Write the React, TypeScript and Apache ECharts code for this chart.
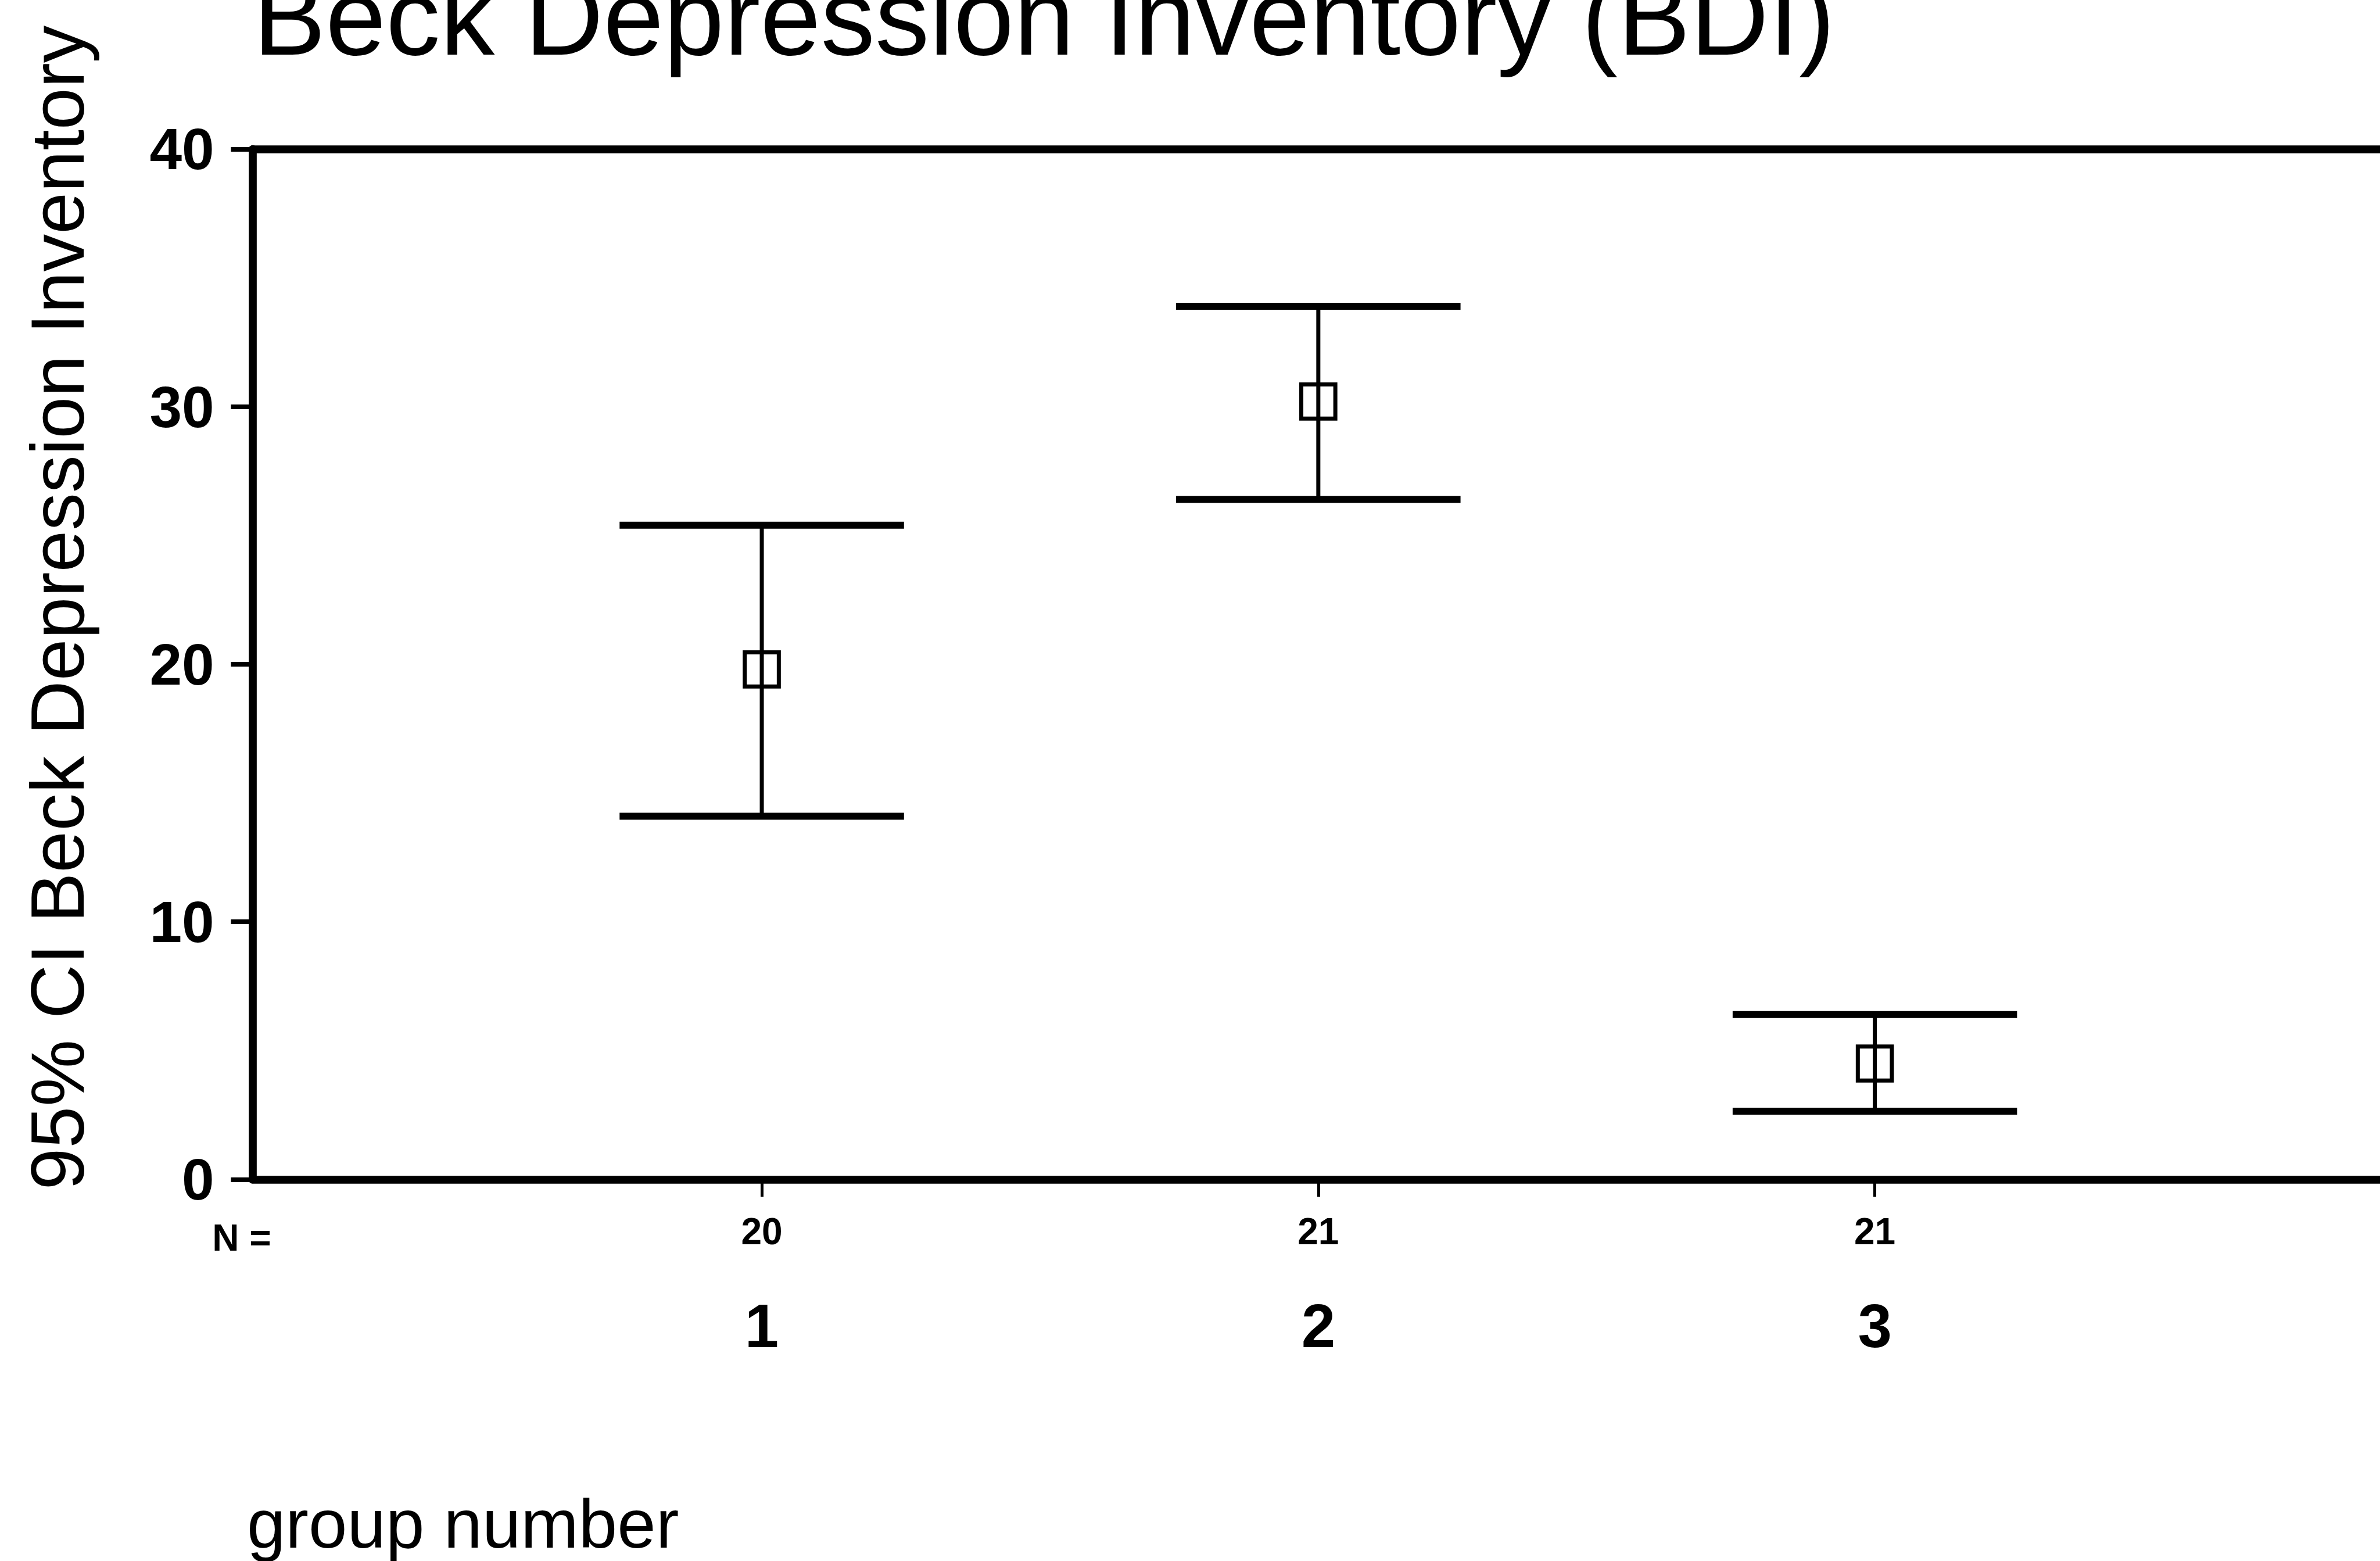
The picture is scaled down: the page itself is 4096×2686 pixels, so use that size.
import React, { useEffect, useRef } from "react";
import * as echarts from "echarts";

// ---- data ----
const groups = [1, 2, 3];
const nValues = [20, 21, 21];
const means = [19.8, 30.2, 4.5];
const lowerCI = [14.1, 26.4, 2.65];
const upperCI = [25.4, 33.9, 6.4];
const yTicks = { min: 0, max: 40, interval: 10 };

const TITLE = "Beck Depression Inventory (BDI)";
const Y_NAME = "95% CI Beck Depression Inventory";
const X_NAME = "group number";

const S = 0.979; // scale from reference pixels
const FONT = "'Liberation Sans', Arial, Helvetica, sans-serif";

export default function App() {
  const ref = useRef<HTMLDivElement>(null);

  useEffect(() => {
    if (!ref.current) return;
    const chart = echarts.init(ref.current, null, { renderer: "svg" });

    const capHalf = 250 * S;
    const sq = 67 * S - 7;

    const option: any = {
      animation: false,
      backgroundColor: "#ffffff",
      grid: {
        left: 444 * S,
        top: 262 * S,
        right: 4096 - 4191 * S,
        bottom: 2686 - 2073 * S,
        containLabel: false,
        outerBoundsMode: "none",
      },
      xAxis: [
        {
          type: "value",
          min: 0.085,
          max: 3.915,
          position: "bottom",
          axisLine: { show: true, lineStyle: { color: "#000", width: 14 * S } },
          axisTick: {
            show: true,
            customValues: groups,
            length: 30,
            lineStyle: { color: "#000", width: 5 },
          },
          axisLabel: {
            show: true,
            customValues: groups,
            margin: 58,
            fontSize: 64,
            fontWeight: "bold",
            fontFamily: FONT,
            color: "#000",
            formatter: (v: number) => {
              const i = groups.indexOf(Math.round(v));
              return i >= 0 ? String(nValues[i]) : "";
            },
          },
          splitLine: { show: false },
        },
        {
          type: "value",
          min: 0.085,
          max: 3.915,
          position: "bottom",
          offset: 0,
          axisLine: { show: false },
          axisTick: { show: false },
          axisLabel: {
            show: true,
            customValues: groups,
            margin: 200,
            fontSize: 105,
            fontWeight: "bold",
            fontFamily: FONT,
            color: "#000",
            formatter: (v: number) => String(Math.round(v)),
          },
          splitLine: { show: false },
        },
        {
          type: "value",
          min: 0.085,
          max: 3.915,
          position: "top",
          axisLine: { show: true, lineStyle: { color: "#000", width: 14 * S } },
          axisTick: { show: false },
          axisLabel: { show: false },
          splitLine: { show: false },
        },
      ],
      yAxis: {
        type: "value",
        min: yTicks.min,
        max: yTicks.max,
        interval: yTicks.interval,
        axisLine: { show: true, lineStyle: { color: "#000", width: 14 * S } },
        axisTick: {
          show: true,
          inside: false,
          length: 38 * S,
          lineStyle: { color: "#000", width: 8 },
        },
        axisLabel: {
          margin: 66,
          fontSize: 100,
          fontWeight: "bold",
          fontFamily: FONT,
          color: "#000",
        },
        splitLine: { show: false },
      },
      series: [
        {
          type: "custom",
          xAxisIndex: 0,
          yAxisIndex: 0,
          clip: false,
          data: groups.map((g, i) => [g, lowerCI[i], upperCI[i], means[i]]),
          encode: { x: 0, y: [1, 2, 3] },
          renderItem: (params: any, api: any) => {
            const x = api.value(0);
            const pLo = api.coord([x, api.value(1)]);
            const pHi = api.coord([x, api.value(2)]);
            const pM = api.coord([x, api.value(3)]);
            return {
              type: "group",
              children: [
                {
                  type: "line",
                  shape: { x1: pHi[0], y1: pHi[1], x2: pLo[0], y2: pLo[1] },
                  style: { stroke: "#000", lineWidth: 7 },
                },
                {
                  type: "line",
                  shape: { x1: pHi[0] - capHalf, y1: pHi[1], x2: pHi[0] + capHalf, y2: pHi[1] },
                  style: { stroke: "#000", lineWidth: 12 },
                },
                {
                  type: "line",
                  shape: { x1: pLo[0] - capHalf, y1: pLo[1], x2: pLo[0] + capHalf, y2: pLo[1] },
                  style: { stroke: "#000", lineWidth: 12 },
                },
                {
                  type: "rect",
                  shape: { x: pM[0] - sq / 2, y: pM[1] - sq / 2, width: sq, height: sq },
                  style: { fill: "none", stroke: "#000", lineWidth: 7 },
                },
              ],
            };
          },
        },
      ],
      graphic: [
        {
          type: "text",
          left: 445 * S,
          top: (97 - 0.35 * 191) * S - (191 * S) / 2,
          style: {
            text: TITLE,
            fontSize: 191 * S,
            fontFamily: FONT,
            fill: "#000",
          },
        },
        {
          type: "text",
          x: 101 * S,
          y: 1068 * S,
          rotation: Math.PI / 2,
          style: {
            text: Y_NAME,
            fontSize: 132 * S,
            fontFamily: FONT,
            fill: "#000",
            align: "center",
            verticalAlign: "middle",
          },
        },
        {
          type: "text",
          x: 434 * S,
          y: (2720 - 0.35 * 122) * S,
          style: {
            text: X_NAME,
            fontSize: 122 * S,
            fontFamily: FONT,
            fill: "#000",
            align: "left",
            verticalAlign: "middle",
          },
        },
        {
          type: "text",
          x: 373 * S,
          y: 2176 * S,
          style: {
            text: "N =",
            fontSize: 64,
            fontWeight: "bold",
            fontFamily: FONT,
            fill: "#000",
            align: "left",
            verticalAlign: "middle",
          },
        },
      ],
    };

    chart.setOption(option);
    return () => chart.dispose();
  }, []);

  return (
    <div
      ref={ref}
      style={{ position: "fixed", left: 0, top: 0, width: 4096, height: 2686 }}
    />
  );
}
